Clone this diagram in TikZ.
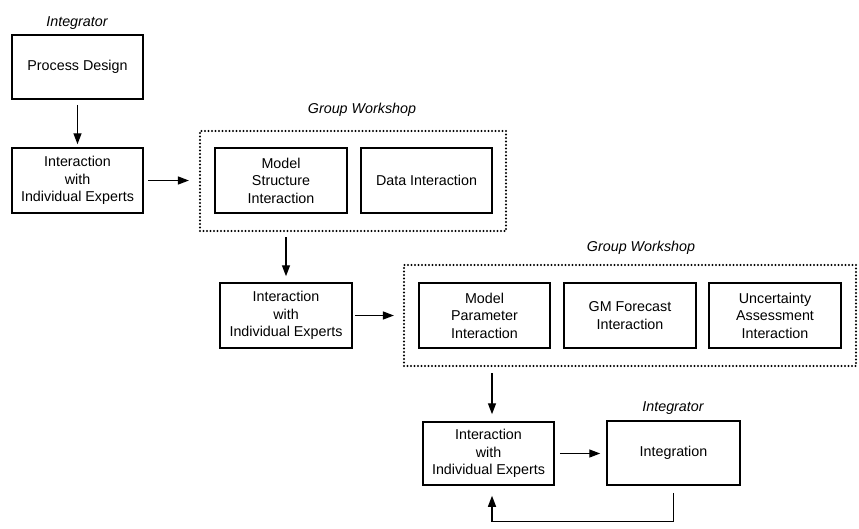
\documentclass[tikz,border=0pt]{standalone}
\usepackage{fontspec}
\setmainfont{Liberation Sans}
\usetikzlibrary{arrows.meta}
\begin{document}
\begin{tikzpicture}[x=1pt,y=-1pt,
  txt/.style={font=\fontsize{14.3}{17.5}\selectfont, align=center},
  box/.style={txt, draw, line width=1.5pt, inner sep=0pt},
  wsbox/.style={draw, line width=2.2pt, line cap=round, dash pattern=on 0pt off 3.5pt, inner sep=0pt},
  lbl/.style={font=\fontsize{14.3}{17.5}\selectfont\itshape, inner sep=0pt},
  arr/.style={line width=1.4pt, -{Triangle[length=11pt,width=8pt]}}
]
\useasboundingbox (0,0) rectangle (859,528);

% labels
\node[lbl] (int1) at (77,23) {Integrator};
\node[lbl] (gwl1) at (362,110) {Group Workshop};
\node[lbl] (gwl2) at (641,248) {Group Workshop};
\node[lbl] (int2) at (673,408) {Integrator};

% workshop frames
\node[wsbox, minimum width=306pt, minimum height=100pt] (gw1) at (353,181) {};
\node[wsbox, minimum width=452pt, minimum height=101pt] (gw2) at (630,315.5) {};

% boxes
\node[box, minimum width=131pt, minimum height=64pt] (pd) at (77.5,67) {Process Design};
\node[box, minimum width=131pt, minimum height=65pt] (ie1) at (77.5,180.5) {Interaction\\with\\Individual Experts};
\node[box, minimum width=132pt, minimum height=65pt] (ms) at (281,180.5) {Model\\Structure\\Interaction};
\node[box, minimum width=131pt, minimum height=65pt] (di) at (426.5,180.5) {Data Interaction};
\node[box, minimum width=132pt, minimum height=65pt] (ie2) at (286,315.5) {Interaction\\with\\Individual Experts};
\node[box, minimum width=131pt, minimum height=65pt] (mp) at (484.5,315.5) {Model\\Parameter\\Interaction};
\node[box, minimum width=132pt, minimum height=65pt] (gm) at (630,315.5) {GM Forecast\\Interaction};
\node[box, minimum width=132pt, minimum height=65pt] (ua) at (775,315.5) {Uncertainty\\Assessment\\Interaction};
\node[box, minimum width=131pt, minimum height=63pt] (ie3) at (488.5,453.5) {Interaction\\with\\Individual Experts};
\node[box, minimum width=133pt, minimum height=64pt] (ig) at (673.5,453) {Integration};

% connectors
\draw[arr, shorten <=5pt, shorten >=3pt] (pd.south) -- (ie1.north);
\draw[arr, shorten <=4pt, shorten >=10pt] (ie1.east) -- (ie1.east -| gw1.west);
\draw[arr, shorten <=5pt, shorten >=6pt] (ie2.north |- gw1.south) -- (ie2.north);
\draw[arr, shorten <=2pt, shorten >=9pt] (ie2.east) -- (ie2.east -| gw2.west);
\draw[arr, shorten <=6pt, shorten >=7pt] ([xshift=3.5pt]ie3.north |- gw2.south) -- ([xshift=3.5pt]ie3.north);
\draw[arr, shorten <=5pt, shorten >=6pt] (ie3.east) -- (ie3.east -| ig.west);
\draw[arr] ([yshift=-7pt]ig.south) -- ++(0,29) -| ([xshift=3.5pt,yshift=-10pt]ie3.south);
\end{tikzpicture}
\end{document}
